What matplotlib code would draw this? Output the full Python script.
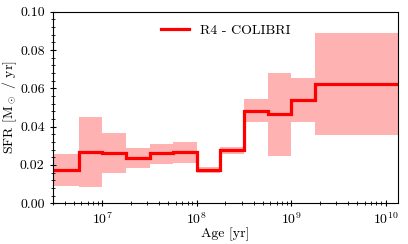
import numpy as np
import matplotlib
matplotlib.use('Agg')
from matplotlib import pyplot as plt
from matplotlib.ticker import AutoMinorLocator

plt.rcParams['font.family'] = 'cmr10'
plt.rcParams['mathtext.fontset'] = 'cm'
plt.rcParams['axes.formatter.use_mathtext'] = True
plt.rcParams['axes.unicode_minus'] = False
plt.rcParams['font.size'] = 10

# bin edges (yr) and SFR per bin (Msun/yr)
age_edges = [3.0e6, 5.62e6, 1.0e7, 1.78e7, 3.16e7, 5.62e7, 1.0e8,
             1.78e8, 3.16e8, 5.62e8, 1.0e9, 1.78e9, 1.35e10]
sfr = [0.0172, 0.0268, 0.0264, 0.0237, 0.0261, 0.0266,
       0.0174, 0.0278, 0.0483, 0.0465, 0.0540, 0.0623]
sfr_low = [0.0089, 0.0085, 0.0158, 0.0183, 0.0207, 0.0212,
           0.0157, 0.0259, 0.0424, 0.0248, 0.0426, 0.0356]
sfr_high = [0.0256, 0.0449, 0.0368, 0.0290, 0.0311, 0.0318,
            0.0191, 0.0296, 0.0543, 0.0679, 0.0652, 0.0889]

fig = plt.figure(figsize=(4.08, 2.44), dpi=100)
ax = fig.add_axes([0.13, 0.167, 0.845, 0.785])

ax.stairs(sfr_high, age_edges, baseline=sfr_low, fill=True,
          color='red', alpha=0.3, linewidth=0)
ax.stairs(sfr, age_edges, baseline=None, color='red', linewidth=2.3,
          label='R4 - COLIBRI')

ax.set_xscale('log')
ax.set_xlim(age_edges[0], age_edges[-1])
ax.set_ylim(0, 0.1)
ax.set_yticks([0.0, 0.02, 0.04, 0.06, 0.08, 0.10])
ax.set_yticklabels(['0.00', '0.02', '0.04', '0.06', '0.08', '0.10'])
ax.yaxis.set_minor_locator(AutoMinorLocator(5))
ax.tick_params(which='major', direction='inout', length=5, width=0.8)
ax.tick_params(which='minor', direction='inout', length=3, width=0.6)

ax.set_xlabel('Age [yr]', labelpad=0)
ax.set_ylabel(r'SFR [M$_\odot$ / yr]', labelpad=1)
ax.legend(loc='upper center', frameon=False)

plt.savefig('out.png', dpi=100)
